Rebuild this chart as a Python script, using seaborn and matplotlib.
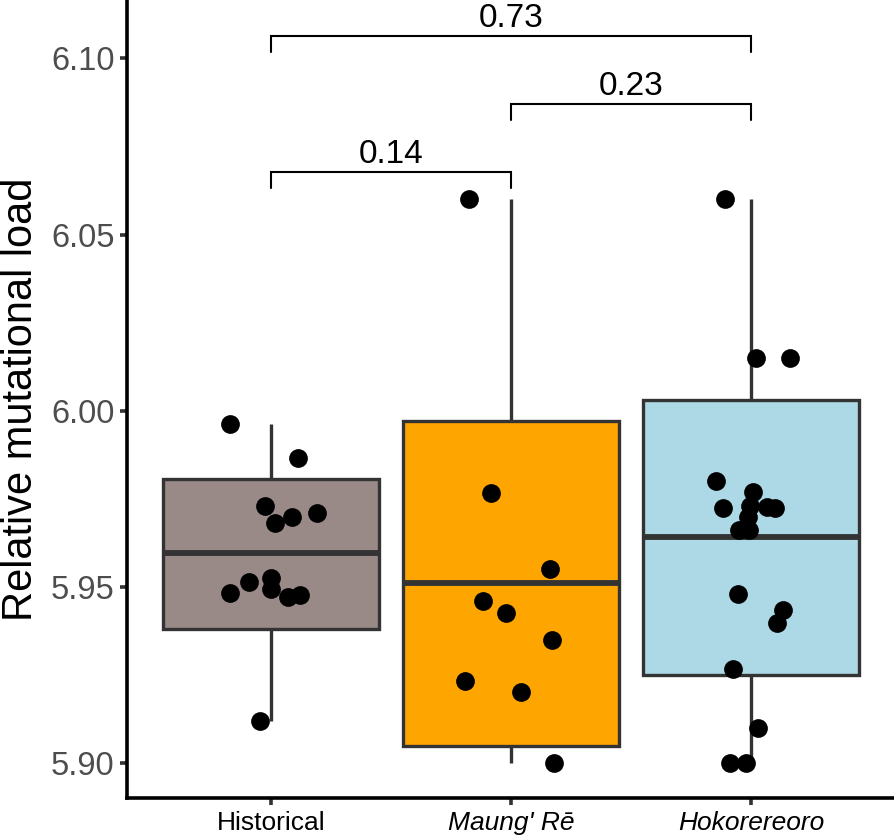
# import libraries
import numpy as np
import pandas as pd
import seaborn as sns
import matplotlib.pyplot as plt

# groups shown on the x axis
groups = ["Historical", "Maung' Rē", "Hokorereoro"]
box_colors = ["#998a88", "#ffa500", "#add8e6"]

# box summaries: min, q1, median, q3, max
hist_box = [5.9120, 5.9381, 5.9597, 5.9807, 5.9962]
maung_box = [5.9001, 5.9049, 5.9511, 5.9971, 6.0601]
hoko_box = [5.9001, 5.9250, 5.9642, 6.0031, 6.0601]

# individual samples (as plotted)
hist_pts = [5.9963, 5.9866, 5.9730, 5.9699, 5.9710, 5.9682, 5.9494,
            5.9483, 5.9514, 5.9526, 5.9472, 5.9477, 5.9120]
maung_pts = [6.0601, 5.9767, 5.9551, 5.9460, 5.9426, 5.9350, 5.9233,
             5.9202, 5.9001]
hoko_pts = [6.0601, 6.0150, 6.0150, 5.9801, 5.9770, 5.9724, 5.9727,
            5.9699, 5.9724, 5.9730, 5.9662, 5.9662, 5.9480, 5.9435,
            5.9398, 5.9268, 5.9100, 5.9001, 5.9001]

# pairwise comparisons and p values
pairs = [(0, 1), (1, 2), (0, 2)]
p_values = ["0.14", "0.23", "0.73"]

box_df = pd.DataFrame({
    "group": np.repeat(groups, 5),
    "load": hist_box + maung_box + hoko_box,
})
pts_df = pd.DataFrame({
    "group": [groups[0]] * len(hist_pts) + [groups[1]] * len(maung_pts)
             + [groups[2]] * len(hoko_pts),
    "load": hist_pts + maung_pts + hoko_pts,
})

sns.set_style("white")
plt.rcParams["font.family"] = ["Liberation Sans", "DejaVu Sans"]

fig = plt.figure(figsize=(8.95, 8.38), dpi=100)
ax = fig.add_axes([0.1419, 0.0477, 0.8581, 0.9523])

sns.boxplot(data=box_df, x="group", y="load", hue="group", order=groups,
            hue_order=groups, palette=box_colors, saturation=1, width=0.9,
            linecolor="#333333", linewidth=2.4, showcaps=False,
            showfliers=False, legend=False, ax=ax,
            medianprops={"linewidth": 4.2, "color": "#333333"})

np.random.seed(7)
sns.stripplot(data=pts_df, x="group", y="load", order=groups, color="black",
              size=13.5, jitter=0.2, linewidth=0, ax=ax, zorder=3)

# significance brackets
bracket_y = [6.0677, 6.0870, 6.1063]
tick_drop = 0.0046
for (a, b), p, yb in zip(pairs, p_values, bracket_y):
    ax.plot([a, a, b, b], [yb - tick_drop, yb, yb, yb - tick_drop],
            color="black", linewidth=1.5, solid_joinstyle="miter")
    ax.text((a + b) / 2, yb + 0.0026, p, ha="center", va="baseline",
            fontsize=24, color="black")

ax.set_xlim(-0.6, 2.6)
ax.set_ylim(5.8902, 6.1165)
ax.set_yticks([5.90, 5.95, 6.00, 6.05, 6.10])
ax.set_yticklabels(["5.90", "5.95", "6.00", "6.05", "6.10"])
ax.set_xlabel("")
ax.set_ylabel("Relative mutational load", fontsize=30, labelpad=7,
              color="black")

sns.despine(ax=ax)
for s in ["left", "bottom"]:
    ax.spines[s].set_linewidth(2.6)
    ax.spines[s].set_color("black")
ax.tick_params(axis="y", labelsize=23.5, labelcolor="#4d4d4d", color="#333333",
               length=5, width=2.6, pad=4, left=True)
ax.tick_params(axis="x", labelsize=19, labelcolor="black", color="#333333",
               length=5, width=2.6, pad=4, bottom=True)
for lab in ax.get_xticklabels()[1:]:
    lab.set_style("italic")

plt.savefig("out.png", dpi=100)
